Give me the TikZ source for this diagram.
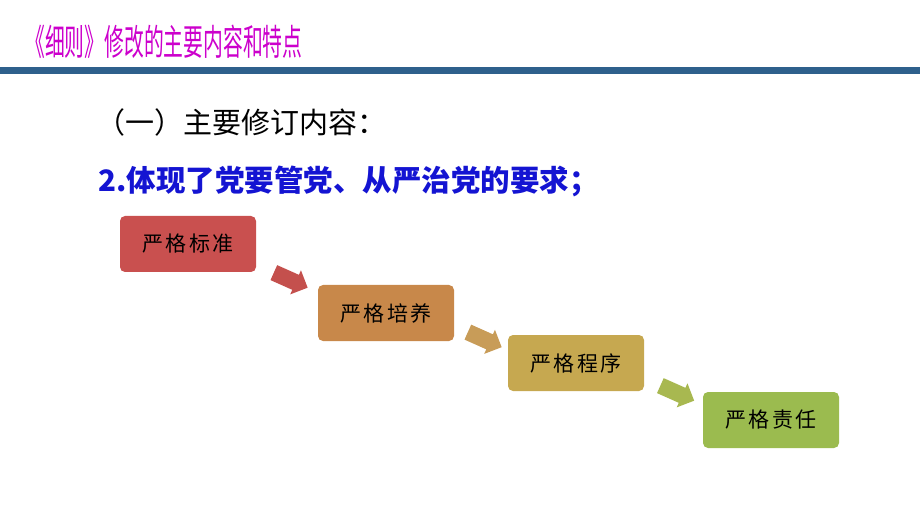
\documentclass[tikz,border=0pt]{standalone}
\usepackage{tikz}
\usepackage{xcolor}
\usepackage{fontspec}
\usetikzlibrary{shapes.arrows}
\usetikzlibrary{calc}
\newfontfamily\cjk{Noto Sans CJK SC}
\newfontfamily\cjkbox[LetterSpace=12]{Noto Sans CJK SC}
\definecolor{titlemag}{RGB}{204,0,204}
\definecolor{rulebl}{RGB}{46,96,140}
\definecolor{itemblue}{RGB}{20,20,210}
\definecolor{stdred}{RGB}{201,80,79}
\definecolor{trainorg}{RGB}{200,136,74}
\definecolor{procgold}{RGB}{198,168,80}
\definecolor{respgrn}{RGB}{155,187,79}
\definecolor{arrowred}{RGB}{196,80,77}
\definecolor{arrowtan}{RGB}{200,156,88}
\definecolor{arrowolv}{RGB}{168,184,80}
\tikzset{
  stepbox/.style={rounded corners=5pt, minimum width=136pt, minimum height=56pt,
    font=\cjkbox\fontsize{21}{21}\selectfont, text=black},
  flowarrow/.style={single arrow, minimum height=37pt, inner xsep=0pt, inner ysep=8pt,
    single arrow head extend=5pt, rotate=-24}
}
\begin{document}
\begin{tikzpicture}[x=1pt,y=-1pt]
    \useasboundingbox (0,0) rectangle (920,518);
    \fill[rulebl] (0,67) rectangle (920,74);
    \path (25,42) node [anchor=west, inner sep=0pt, text=titlemag,
	font=\cjk\fontsize{36}{36}\selectfont] (title) {\scalebox{0.55}[1]{《细则》修改的主要内容和特点}};
    \path (96,122) node [anchor=west, inner sep=0pt, font=\cjk\fontsize{29}{29}\selectfont]
	(part) {（一）主要修订内容：};
    \path (98,181) node [anchor=west, inner sep=0pt, text=itemblue,
	font=\cjk\bfseries\fontsize{29.5}{29.5}\selectfont] (item) {2.体现了党要管党、从严治党的要求；};

    \path (188,244) node [stepbox, fill=stdred] (std) {严格标准};
    \path (386,313) node [stepbox, fill=trainorg] (train) {严格培养};
    \path (576,363) node [stepbox, fill=procgold] (proc) {严格程序};
    \path (771,420) node [stepbox, fill=respgrn] (resp) {严格责任};

    \path ($(std.south east)!0.5!(train.north west)$) node [flowarrow, fill=arrowred] (a1) {};
    \path ($(train.south east)!0.5!(proc.north west)$) node [flowarrow, fill=arrowtan] (a2) {};
    \path ($(proc.south east)!0.5!(resp.north west)$) node [flowarrow, fill=arrowolv] (a3) {};
\end{tikzpicture}
\end{document}
